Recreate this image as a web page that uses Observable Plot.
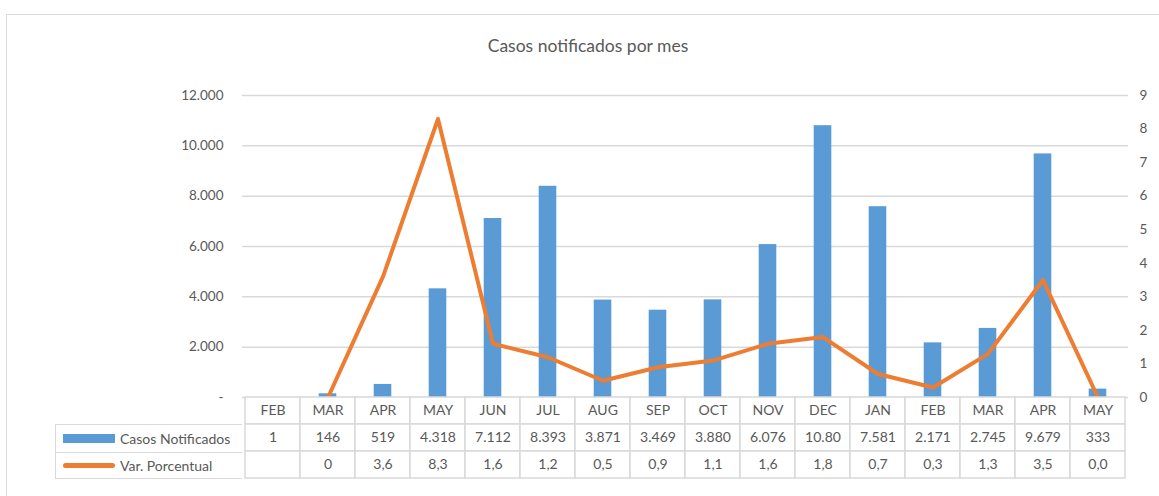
<!DOCTYPE html>
<html>
<head>
<meta charset="utf-8">
<script src="https://cdn.jsdelivr.net/npm/d3@7"></script>
<script src="https://cdn.jsdelivr.net/npm/@observablehq/plot@0.6"></script>
<style>
  body { margin: 0; background: #fff; font-family: Lato, "Open Sans", sans-serif; }
  #wrap { position: relative; width: 1159px; height: 496px; overflow: hidden; background: #fff; }
  #frame { position: absolute; left: 6px; top: 14px; width: 1170px; height: 500px; border: 1.5px solid #d9d9d9; box-sizing: border-box; }
  #title { position: absolute; left: 0; width: 1176px; top: 35px; text-align: center; font-size: 17.5px; line-height: 22px; color: #595959; }
  #chart, #table { position: absolute; left: 0; }
  #chart { top: 0; }
  #table { top: 397px; }
  #legend { position: absolute; left: 55px; top: 424px; width: 187px; box-sizing: border-box;
            border-left: 1.5px solid #d9d9d9; border-top: 1.5px solid #d9d9d9; border-bottom: 1.5px solid #d9d9d9; }
  .lrow { height: 27px; display: flex; align-items: center; font-size: 14px; color: #595959; box-sizing: border-box; }
  .lrow + .lrow { border-top: 1.5px solid #d9d9d9; height: 26px; }
  .icon { margin-left: 7px; width: 52px; margin-right: 5px; }
  .bar { height: 9px; background: #5B9BD5; }
  .ln { height: 5px; border-radius: 3px; background: #ED7D31; }
</style>
</head>
<body>
<div id="wrap">
  <div id="frame"></div>
  <div id="title">Casos notificados por mes</div>
  <div id="chart"></div>
  <div id="table"></div>
  <div id="legend">
    <div class="lrow"><div class="icon bar"></div><span>Casos Notificados</span></div>
    <div class="lrow"><div class="icon ln"></div><span>Var. Porcentual</span></div>
  </div>
</div>
<script>
// ---- data ----
const periods = ["2020-02","2020-03","2020-04","2020-05","2020-06","2020-07","2020-08","2020-09",
                 "2020-10","2020-11","2020-12","2021-01","2021-02","2021-03","2021-04","2021-05"];
const monthLabels = ["FEB","MAR","APR","MAY","JUN","JUL","AUG","SEP","OCT","NOV","DEC","JAN","FEB","MAR","APR","MAY"];
const casos = [1, 146, 519, 4318, 7112, 8393, 3871, 3469, 3880, 6076, 10800, 7581, 2171, 2745, 9679, 333];
const varPct = [null, 0, 3.6, 8.3, 1.6, 1.2, 0.5, 0.9, 1.1, 1.6, 1.8, 0.7, 0.3, 1.3, 3.5, 0.0];
const casosLabels = ["1","146","519","4.318","7.112","8.393","3.871","3.469","3.880","6.076","10.80","7.581","2.171","2.745","9.679","333"];
const varLabels = ["","0","3,6","8,3","1,6","1,2","0,5","0,9","1,1","1,6","1,8","0,7","0,3","1,3","3,5","0,0"];
const leftTicks = [0, 2000, 4000, 6000, 8000, 10000, 12000];
const rightTicks = [0, 1, 2, 3, 4, 5, 6, 7, 8, 9];
const leftMax = 12000, rightMax = 9;

// ---- styles ----
const BLUE = "#5B9BD5", ORANGE = "#ED7D31", GRID = "#d9d9d9", TEXT = "#595959";
const k = leftMax / rightMax;
const loc = d3.formatLocale({decimal: ",", thousands: ".", grouping: [3], currency: ["", ""]});
const fmtThousands = loc.format(",");

const rows = periods.map((p, i) => ({period: p, casos: casos[i], pct: varPct[i]}));

const chart = Plot.plot({
  width: 1159,
  height: 400,
  marginLeft: 242,
  marginRight: 31,
  marginTop: 95,
  marginBottom: 3,
  style: {fontFamily: "Lato, 'Open Sans', sans-serif", fontSize: "13.5px", color: TEXT, background: "transparent", overflow: "visible"},
  x: {type: "band", domain: periods, padding: 0, axis: null},
  y: {domain: [0, leftMax]},
  marks: [
    Plot.ruleY(leftTicks, {stroke: GRID, strokeWidth: 1.5}),
    Plot.axisY({anchor: "left", ticks: leftTicks, tickFormat: d => d === 0 ? "-" : fmtThousands(d),
                tickSize: 0, tickPadding: 19, label: null, fill: TEXT}),
    Plot.axisY({anchor: "right", ticks: rightTicks.map(v => v * k), tickFormat: d => String(Math.round(d / k)),
                tickSize: 0, tickPadding: 11, label: null, fill: TEXT}),
    Plot.barY(rows, {x: "period", y: "casos", fill: BLUE, insetLeft: 18.7, insetRight: 18.7}),
    Plot.line(rows, {x: "period", y: d => d.pct == null ? NaN : d.pct * k, stroke: ORANGE,
                     strokeWidth: 4, strokeLinejoin: "round", strokeLinecap: "round"})
  ]
});
document.getElementById("chart").appendChild(chart);

const rowKeys = ["h", "c", "v"];
const cells = [];
periods.forEach((p, i) => {
  cells.push({period: p, row: "h", label: monthLabels[i]});
  cells.push({period: p, row: "c", label: casosLabels[i]});
  cells.push({period: p, row: "v", label: varLabels[i]});
});

const table = Plot.plot({
  width: 1159,
  height: 81,
  marginLeft: 242,
  marginRight: 31,
  marginTop: 0,
  marginBottom: 0,
  style: {fontFamily: "Lato, 'Open Sans', sans-serif", fontSize: "14px", color: TEXT, background: "transparent", overflow: "visible"},
  x: {type: "band", domain: periods, padding: 0, axis: null},
  y: {type: "band", domain: rowKeys, padding: 0, axis: null},
  marks: [
    Plot.cell(cells, {x: "period", y: "row", fill: "white", stroke: GRID, strokeWidth: 1.5}),
    Plot.text(cells, {x: "period", y: "row", text: "label", fontSize: 14, fill: TEXT})
  ]
});
document.getElementById("table").appendChild(table);
</script>
</body>
</html>
